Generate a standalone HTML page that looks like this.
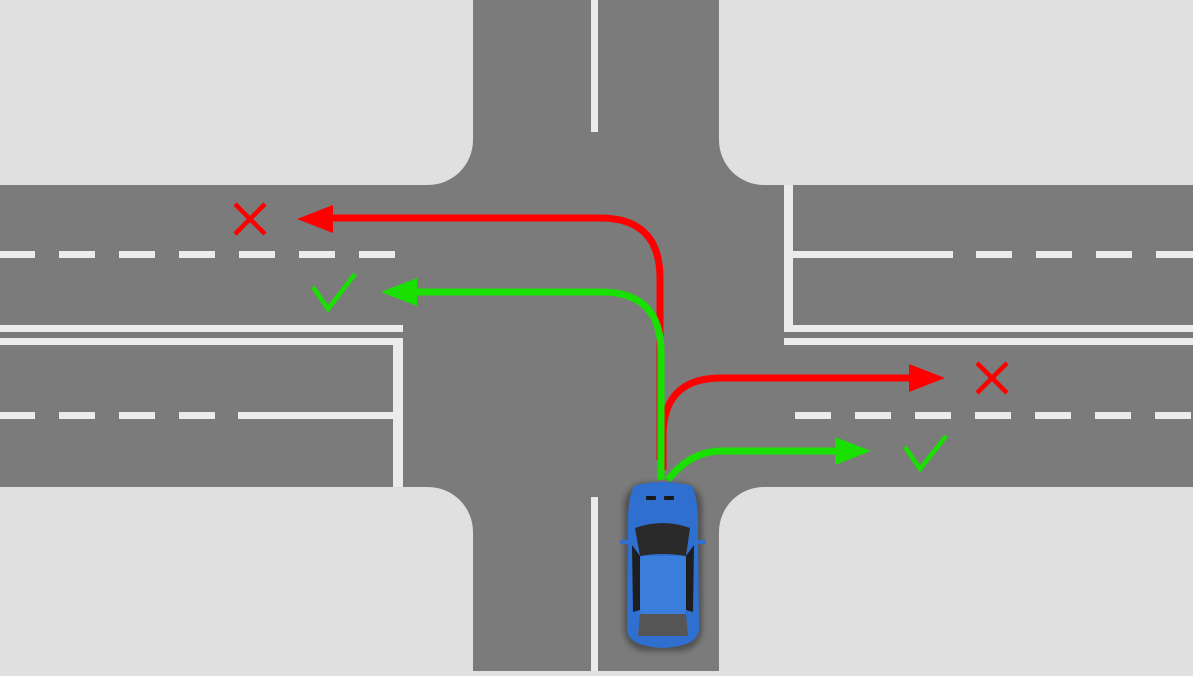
<!DOCTYPE html>
<html><head><style>html,body{margin:0;padding:0;background:#e0e0e0;overflow:hidden}</style></head>
<body>
<svg width="1193" height="671" viewBox="0 0 1193 671" xmlns="http://www.w3.org/2000/svg">
<defs><filter id="bl" x="-30%" y="-30%" width="160%" height="160%"><feGaussianBlur stdDeviation="3"/></filter></defs>
<rect width="1193" height="671" fill="#e0e0e0"/>
<rect x="473" y="0" width="246" height="671" fill="#7b7b7b"/>
<rect x="0" y="185" width="1193" height="302" fill="#7b7b7b"/>
<path d="M428 185 A45 45 0 0 0 473 140 L473 185 Z" fill="#7b7b7b"/>
<path d="M719 140 A45 45 0 0 0 764 185 L719 185 Z" fill="#7b7b7b"/>
<path d="M428 487 A45 45 0 0 1 473 532 L473 487 Z" fill="#7b7b7b"/>
<path d="M719 532 A45 45 0 0 1 764 487 L719 487 Z" fill="#7b7b7b"/>
<g fill="#ebebeb">
<rect x="591" y="0" width="7" height="132"/>
<rect x="591" y="497" width="7" height="174"/>
<rect x="0" y="325" width="403" height="7"/>
<rect x="0" y="338" width="403" height="7"/>
<rect x="393" y="338" width="10" height="149"/>
<rect x="238" y="412" width="160" height="7"/>
<rect x="0" y="412" width="35" height="7"/><rect x="59" y="412" width="36" height="7"/><rect x="119" y="412" width="36" height="7"/><rect x="179" y="412" width="36" height="7"/>
<rect x="0" y="251" width="35" height="7"/><rect x="59" y="251" width="36" height="7"/><rect x="119" y="251" width="36" height="7"/><rect x="179" y="251" width="36" height="7"/><rect x="239" y="251" width="36" height="7"/><rect x="299" y="251" width="36" height="7"/><rect x="359" y="251" width="36" height="7"/>
<rect x="784" y="185" width="9" height="147"/>
<rect x="784" y="325" width="409" height="7"/>
<rect x="784" y="338" width="409" height="7"/>
<rect x="793" y="251" width="160" height="7"/>
<rect x="976" y="251" width="36" height="7"/><rect x="1036" y="251" width="36" height="7"/><rect x="1096" y="251" width="36" height="7"/><rect x="1156" y="251" width="37" height="7"/>
<rect x="795" y="412" width="36" height="7"/><rect x="855" y="412" width="36" height="7"/><rect x="915" y="412" width="36" height="7"/><rect x="975" y="412" width="36" height="7"/><rect x="1035" y="412" width="36" height="7"/><rect x="1095" y="412" width="36" height="7"/><rect x="1155" y="412" width="36" height="7"/>
</g>
<g fill="none" stroke-width="7">
<path d="M660 460 L660 278 Q660 218 600 218 L330 218" stroke="#ff0000"/>
<path d="M663 470 L663 436 Q663 378 721 378 L912 378" stroke="#ff0000"/>
<path d="M661 480 L661 352 Q661 292 601 292 L414 292" stroke="#19e000"/>
<path d="M668 480 Q690 451 722 451 L838 451" stroke="#19e000"/>
</g>
<polygon points="297,219 333,205 333,233" fill="#ff0000"/>
<polygon points="945,378 909,364 909,392" fill="#ff0000"/>
<polygon points="381,292 417,278 417,306" fill="#19e000"/>
<polygon points="871,451 835,437 835,465" fill="#19e000"/>
<g stroke="#ff0000" stroke-width="4.5">
<path d="M235 204 L265 234 M265 204 L235 234"/>
<path d="M977 363 L1007 393 M1007 363 L977 393"/>
</g>
<g stroke="#19e000" stroke-width="4.5" fill="none">
<path d="M313 287 L328 309 L355 274"/>
<path d="M905 447 L920 469 L946 436"/>
</g>
<g>
<rect x="624" y="483" width="78" height="168" rx="22" fill="#000" opacity="0.35" filter="url(#bl)"/>
<path d="M634 486 Q663 478 692 486 Q699 500 698 530 L699 630 Q698 646 663 648 Q628 646 627 630 L628 530 Q627 500 634 486 Z" fill="#2f6fd0"/>
<rect x="620" y="540" width="9" height="4" rx="2" fill="#2f6fd0"/>
<rect x="697" y="540" width="9" height="4" rx="2" fill="#2f6fd0"/>
<rect x="646" y="496" width="10" height="4" rx="1" fill="#1a1a1a"/>
<rect x="664" y="496" width="10" height="4" rx="1" fill="#1a1a1a"/>
<path d="M635 528 Q663 518 690 528 L686 556 Q663 552 640 556 Z" fill="#2a2a2a"/>
<path d="M632 545 L640 556 L640 610 L633 612 Z" fill="#1e1e1e"/>
<path d="M694 545 L686 556 L686 610 L693 612 Z" fill="#1e1e1e"/>
<rect x="640" y="556" width="46" height="58" rx="3" fill="#3a7ddb"/>
<path d="M640 614 L686 614 L688 636 L638 636 Z" fill="#555"/>
</g>
</svg>
</body></html>
